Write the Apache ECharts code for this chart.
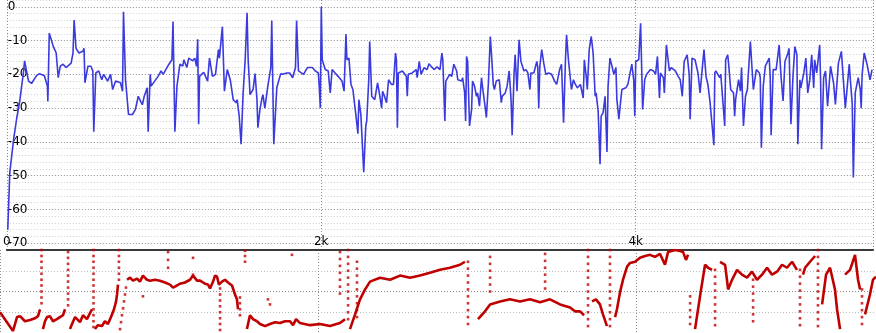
<!DOCTYPE html>
<html><head><meta charset="utf-8">
<script src="https://cdn.jsdelivr.net/npm/echarts@6/dist/echarts.min.js"></script>
<style>html,body{margin:0;padding:0;background:#fff;overflow:hidden}#c{width:876px;height:333px}</style>
</head><body><div id="c"></div>
<script>
// Frequency axis (Hz) and tick labels
const freqMin = 0, freqMax = 5509, freqStep = 2000;
const freqLabels = {0: '0', 2000: '2k', 4000: '4k'};
// Magnitude axis (dB)
const magMin = -72, magMax = 2, magMinorStep = 2, magMajorStep = 10;
// Phase axis (degrees)
const phaseMin = -180, phaseMax = 180, phaseStep = 90;

// Magnitude response [Hz, dB]
const magA = [[6,-66],[19,-49],[44,-39],[63,-33],[82,-28],[107,-19],[113,-16],[138,-22],[157,-22.7],[189,-20.4],[208,-19.8],[239,-20.4],[258,-23.5],[261,-28],[270,-7.8],[296,-11.8],[314,-13.7],[327,-21],[340,-17.6],[358,-17],[377,-18],[409,-16.7],[421,-13.7],[428,-3.9],[440,-12.3],[459,-13.7],[484,-13.2],[491,-12.3],[497,-22.5],[516,-17.6],[535,-17.6],[547,-19],[553,-37],[566,-19.6],[585,-19],[604,-21.6],[616,-20],[641,-22],[660,-20],[673,-24.5],[692,-22],[723,-22.5],[736,-25],[742,-1.5],[755,-21.6],[774,-31.9],[799,-31.9],[818,-30.4],[836,-26.5],[862,-29],[874,-26.5],[893,-24],[899,-37],[912,-20]];
const magB = [[918,-23.5],[962,-20.6],[981,-19],[994,-20],[1031,-17],[1050,-15.7],[1057,-4.4],[1069,-37],[1082,-23.5],[1101,-17],[1119,-17.6],[1126,-15.7],[1145,-18],[1157,-15.2],[1182,-16],[1195,-15.2],[1207,-17.6],[1214,-9.6],[1220,-34.8],[1226,-20.6],[1252,-19.4],[1277,-22],[1289,-15.2],[1308,-20.6],[1327,-20],[1346,-12.7],[1352,-15.2],[1371,-5.9],[1384,-25],[1402,-18.6],[1421,-21.6],[1440,-27.5],[1459,-28.4],[1465,-27.5],[1478,-32.4],[1490,-40.7],[1503,-25.5],[1516,-15.7],[1528,-1.8],[1535,-15.7],[1547,-26],[1566,-24.5],[1579,-19.8],[1591,-27.5],[1597,-35.8],[1610,-30.4],[1623,-27],[1629,-26],[1641,-30],[1660,-23.5],[1679,-18],[1685,-4.1],[1698,-40.7],[1717,-24],[1742,-19.8],[1755,-20],[1780,-19.6],[1799,-19.6],[1818,-21],[1836,-18]];
const magC = [[1843,-4.1],[1855,-19],[1887,-20],[1912,-18],[1943,-18],[1962,-19],[1981,-19.6],[1987,-23.5],[1994,-30],[2000,0],[2006,-15.7],[2025,-18.6],[2044,-19],[2057,-25.5],[2069,-18.6],[2088,-19.6],[2107,-20.6],[2132,-22],[2145,-25],[2157,-8.1],[2163,-15.7],[2176,-15.2],[2189,-23],[2201,-24.5],[2220,-32],[2233,-37.6],[2239,-27.5],[2252,-32],[2270,-49],[2283,-35.3],[2289,-33.8],[2302,-21.6],[2308,-10.3],[2321,-26.5],[2340,-27.5],[2358,-22.5],[2371,-26],[2384,-30],[2390,-25],[2402,-26.5],[2415,-28.4],[2428,-21.6],[2446,-23],[2459,-23],[2472,-13.7],[2478,-15.7],[2484,-35.8],[2490,-19.6],[2516,-19],[2541,-20.6],[2547,-26.5],[2553,-20],[2578,-19.6],[2604,-18.6],[2610,-21],[2623,-16.2],[2635,-20],[2654,-18],[2673,-18.6],[2685,-16.9],[2698,-17.6],[2717,-18.6],[2736,-17.8],[2755,-18.6]];
const magD = [[2767,-13.7],[2773,-15.7],[2786,-33.8],[2792,-22],[2817,-20],[2830,-20.6],[2843,-17],[2861,-19],[2868,-21.6],[2893,-22],[2899,-21],[2912,-25.5],[2918,-33.8],[2924,-14.7],[2931,-16.2],[2943,-35.3],[2956,-30.4],[2962,-22],[2975,-23.5],[2987,-26.5],[2994,-25.5],[3006,-29.4],[3019,-21],[3025,-23.5],[3044,-30.4],[3050,-32.8],[3063,-22.5],[3075,-8.8],[3082,-13.7],[3094,-23],[3101,-24.5],[3113,-22],[3132,-21.6],[3145,-28.4],[3151,-26.5],[3170,-25.5],[3182,-23.5],[3195,-19],[3207,-27.5],[3214,-38],[3226,-20],[3233,-14.2],[3245,-25],[3258,-9.8],[3270,-16.2],[3289,-19],[3302,-18.6],[3314,-19.6],[3327,-24.5],[3333,-19.6],[3352,-19.6],[3371,-16.2],[3377,-18],[3383,-30],[3390,-17.6],[3402,-12.7],[3415,-16.7],[3428,-20],[3446,-19.6],[3465,-20],[3484,-22],[3497,-23],[3516,-18.6],[3528,-17],[3541,-34.3],[3553,-15.7],[3560,-8.3],[3572,-15.7],[3591,-24.5],[3604,-21.6],[3616,-23],[3629,-24],[3648,-23],[3666,-27]];
const magE = [[3673,-15.7],[3685,-20.6],[3692,-24.5],[3704,-12.7],[3717,-8.8],[3729,-13.7],[3742,-26.5],[3748,-25.5],[3761,-30.9],[3773,-46.6],[3780,-32.4],[3792,-31.4],[3805,-26.5],[3817,-43],[3824,-23.5],[3836,-15.2],[3849,-17.6],[3861,-20],[3874,-18],[3880,-27.5],[3893,-33.3],[3905,-27.5],[3912,-24.5],[3937,-24],[3950,-23],[3962,-23],[3975,-17],[3987,-21.6],[3994,-32.4],[4000,-16.2],[4019,-15.7],[4031,-4.9],[4044,-30.4],[4057,-21.6],[4069,-20],[4094,-18.6],[4113,-19],[4126,-20],[4138,-14.7],[4151,-27],[4157,-19.6],[4176,-21],[4182,-25.5],[4195,-11.3],[4214,-19],[4226,-18],[4252,-19],[4270,-20.6],[4283,-21.6],[4296,-26.5],[4308,-16.2],[4327,-14.2],[4340,-20],[4346,-33.3],[4358,-15.2],[4377,-15.7],[4396,-19.6],[4409,-25.5],[4421,-25],[4434,-12.7],[4447,-20.6],[4459,-23],[4472,-28],[4484,-27.5],[4497,-41],[4503,-19.6],[4509,-19],[4534,-21],[4541,-20],[4566,-35.3],[4572,-15.7],[4585,-14.2]];
const magF = [[4591,-17],[4604,-24.5],[4622,-25.5],[4629,-32.4],[4635,-27.5],[4654,-21.6],[4666,-25],[4673,-18],[4685,-35.3],[4698,-26.5],[4710,-24.5],[4729,-10.3],[4736,-10.3],[4748,-24.5],[4767,-18.6],[4786,-19.6],[4792,-21],[4799,-41.7],[4811,-23.5],[4824,-17.6],[4830,-18],[4849,-15.2],[4855,-20.6],[4861,-38],[4874,-18.6],[4893,-18.6],[4912,-11.3],[4924,-20.6],[4937,-27.9],[4949,-16.2],[4968,-13.7],[4975,-12.3],[4987,-34.8],[5000,-20.6],[5012,-11.8],[5025,-14.2],[5031,-40.7],[5044,-21.6],[5050,-24],[5069,-19.6],[5082,-15.2],[5094,-25.5],[5107,-21.6],[5119,-14.2],[5132,-24],[5138,-15.7],[5151,-19.6],[5170,-11.3],[5176,-22.5],[5182,-42.2],[5195,-21],[5207,-19],[5220,-29.4],[5239,-17.6],[5258,-22.5],[5270,-28.9],[5289,-16.7],[5308,-13.2],[5321,-22],[5333,-30],[5358,-17],[5365,-21.6],[5377,-28.8],[5384,-50.5],[5396,-25.5],[5415,-21],[5428,-24.5],[5434,-30],[5440,-20],[5453,-13.7],[5471,-17],[5490,-21.6],[5503,-18.6]];

// Phase trace [Hz, deg]; null = wrap break
const phaseTrace = [[0,-90],[82,-171],[107,-111],[126,-107],[157,-129],[189,-124],[220,-116],[239,-107],[252,-77],null,
 [270,-163],[283,-129],[296,-111],[314,-107],[333,-129],[358,-120],[377,-111],[396,-103],[409,-77],null,
 [440,-163],[453,-141],[472,-111],[491,-124],[503,-133],[522,-103],[547,-120],[566,-94],[579,-77],null,
 [597,-163],[616,-146],[641,-150],[660,-129],[679,-141],[698,-111],[717,-77],[730,-43],[736,-13],[742,30],null,
 [799,51],[818,60],[836,47],[862,56],[880,43],[899,69],[924,51],[943,47],[975,51],[1006,47],[1038,39],[1069,30],[1088,17],[1113,26],[1132,34],[1163,39],[1195,51],[1214,69],[1239,47],[1258,47],[1289,34],[1308,30],[1321,13],[1340,43],[1352,69],[1365,64],[1377,30],[1396,43],[1415,51],[1434,39],[1459,26],[1478,-13],[1490,-34],[1497,-77],null,
 [1553,-163],[1572,-103],[1591,-120],[1616,-129],[1635,-141],[1667,-150],[1698,-141],[1730,-133],[1761,-137],[1792,-129],[1824,-129],[1843,-146],[1862,-120],[1887,-137],[1950,-146],[2012,-141],[2075,-150],[2138,-137],[2170,-120],null,
 [2201,-163],[2233,-99],[2264,-34],[2296,9],[2327,43],[2390,60],[2453,51],[2516,69],[2578,60],[2641,69],[2704,81],[2767,94],[2830,103],[2893,116],[2924,129],null,
 [3006,-120],[3050,-86],[3082,-56],[3145,-43],[3207,-34],[3270,-43],[3333,-34],[3396,-47],[3459,-34],[3522,-56],[3585,-69],[3616,-86],[3648,-86],[3673,-103],null,
 [3723,-43],[3748,-34],[3773,-56],[3792,-99],[3817,-150],null,
 [3868,-111],[3880,-77],[3899,-4],[3918,51],[3943,107],[3962,124],[3994,129],[4025,146],[4057,154],[4088,159],[4119,150],[4151,163],[4182,116],[4201,171],[4245,180],[4277,176],[4296,171],[4314,137],[4327,159],null,
 [4371,-163],[4390,-77],[4409,9],[4434,116],[4453,103],[4478,94],null,
 [4528,129],[4560,116],[4579,9],[4604,51],[4635,94],[4666,73],[4698,60],[4729,86],[4761,51],[4792,73],[4824,103],[4855,73],[4887,86],[4918,116],[4949,103],[4981,129],[5012,94],null,
 [5050,73],[5063,103],[5094,129],[5126,154],null,
 [5170,-56],[5195,73],[5220,103],[5251,9],[5264,-77],[5283,-163],null,
 [5314,73],[5346,94],[5377,159],[5396,51],[5409,9],null,
 [5440,-99],[5471,-13],[5490,51],[5509,64]];

// Isolated phase samples (fast phase sweeps) [Hz, deg]
const phaseDots = [
 [261,180],[261,154],[261,129],[261,103],[261,77],[261,51],[261,26],[261,0],[261,-26],[261,-51],
 [428,171],[428,146],[428,120],[428,94],[428,69],[428,43],[428,17],[428,-9],[428,-34],[428,-60],
 [588,180],[588,154],[588,129],[588,103],[588,77],[588,51],[588,26],[588,0],[588,-26],[588,-51],[588,-77],[588,-103],[588,-129],[588,-154],
 [748,180],[748,154],[748,129],[748,103],[748,77],[748,51],
 [755,-163],[761,-133],[767,-103],[774,-73],[780,-43],[786,-13],[792,17],
 [899,-21],[1057,171],[1057,137],[1057,103],[1214,146],[1214,73],
 [1384,13],[1384,-13],[1384,-39],[1384,-64],[1384,-90],[1384,-116],[1384,-141],[1384,-167],
 [1509,-26],[1509,-51],[1509,-77],[1509,-103],[1541,176],[1541,154],[1541,129],
 [1685,-34],[1698,-56],[1836,159],
 [2138,171],[2138,141],[2138,111],[2138,81],[2138,51],[2138,21],[2138,-9],
 [2189,180],[2189,150],[2189,120],[2189,90],[2189,60],[2189,30],[2189,0],[2189,-30],[2189,-60],[2189,-90],[2189,-120],
 [2245,129],[2245,99],[2245,69],[2245,39],[2245,9],[2245,-21],[2245,-51],[2245,-81],[2245,-111],
 [2943,129],[2943,99],[2943,69],[2943,39],[2943,9],[2943,-21],[2943,-51],[2943,-81],[2943,-111],[2943,-141],
 [3082,150],[3082,120],[3082,90],[3082,60],[3082,30],[3082,0],
 [3428,163],[3428,133],[3428,103],[3428,73],[3428,43],[3428,13],
 [3698,180],[3698,150],[3698,120],[3698,90],[3698,60],[3698,30],[3698,0],[3698,-30],[3698,-60],[3698,-90],[3698,-120],[3698,-150],
 [3836,180],[3836,150],[3836,120],[3836,90],[3836,60],[3836,30],[3836,0],[3836,-30],[3836,-60],[3836,-90],[3836,-120],[3836,-150],
 [4340,-21],[4340,-51],[4340,-81],[4340,-111],[4340,-141],
 [4497,94],[4497,64],[4497,34],[4497,4],[4497,-26],[4497,-56],[4497,-86],[4497,-116],[4497,-146],
 [4736,51],[4736,21],[4736,-9],[4736,-39],[4736,-69],[4736,-99],[4736,-129],
 [5031,94],[5031,64],[5031,34],[5031,4],[5031,-26],[5031,-56],[5031,-86],[5031,-116],[5031,-146],
 [5144,180],[5144,150],[5144,120],[5144,90],[5144,60],[5144,30],[5144,0],[5144,-30],[5144,-60],[5144,-90],[5144,-120],[5144,-150],
 [5421,9],[5421,-21],[5421,-51],[5421,-81],[5421,-111],[5421,-141]
];

const magnitude = magA.concat(magB, magC, magD, magE, magF);
const chart = echarts.init(document.getElementById('c'), null, {renderer: 'canvas'});
const font = {fontFamily: 'DejaVu Sans', fontSize: 12, color: '#000'};
const minorC = '#cfcfcf', majorC = '#8c8c8c';
chart.setOption({
  animation: false,
  backgroundColor: '#fff',
  grid: [
    {left: 0, right: 0, top: 0, height: 250},
    {left: 0, right: 0, top: 250, height: 84}
  ],
  xAxis: [
    {type: 'value', gridIndex: 0, min: freqMin, max: freqMax, interval: freqStep,
     axisLine: {show: true, onZero: false, lineStyle: {color: '#3a3a3a', width: 2}},
     axisTick: {show: false},
     axisLabel: Object.assign({inside: true, margin: 2, verticalAlign: 'bottom',
       formatter: v => freqLabels[v] !== undefined ? freqLabels[v] : ''}, font),
     splitLine: {show: true, lineStyle: {color: majorC, type: [1, 2], width: 1}}},
    {type: 'value', gridIndex: 1, min: freqMin, max: freqMax, interval: freqStep,
     axisLine: {show: false}, axisTick: {show: false}, axisLabel: {show: false},
     splitLine: {show: true, lineStyle: {color: majorC, type: [1, 2], width: 1}}}
  ],
  yAxis: [
    {type: 'value', gridIndex: 0, min: magMin, max: magMax, interval: magMinorStep,
     axisLine: {show: false}, axisTick: {show: false},
     axisLabel: Object.assign({inside: true, margin: 1, align: 'left',
       formatter: v => (v % magMajorStep === 0) ? String(v) : ''}, font),
     splitLine: {show: true, lineStyle: {color: [minorC, majorC, minorC, minorC, minorC], type: [1, 2], width: 1}}},
    {type: 'value', gridIndex: 1, min: phaseMin, max: phaseMax, interval: phaseStep,
     axisLine: {show: false}, axisTick: {show: false}, axisLabel: {show: false},
     splitLine: {show: true, lineStyle: {color: ['#ffffff', '#bdbdbd', majorC, '#bdbdbd', '#ffffff'], type: [1, 2], width: 1}}}
  ],
  series: [
    {type: 'line', name: 'magnitude', xAxisIndex: 0, yAxisIndex: 0, data: magnitude,
     showSymbol: false, symbol: 'none', lineStyle: {color: '#3a3ade', width: 1.6}, z: 3},
    {type: 'line', name: 'phase', xAxisIndex: 1, yAxisIndex: 1, data: phaseTrace,
     showSymbol: false, symbol: 'none', connectNulls: false, lineStyle: {color: '#c00000', width: 2.6}, z: 3},
    {type: 'scatter', name: 'phaseDots', xAxisIndex: 1, yAxisIndex: 1, data: phaseDots,
     symbol: 'rect', symbolSize: 2.6, itemStyle: {color: '#c00000'}, z: 3}
  ]
});
</script>
</body></html>
